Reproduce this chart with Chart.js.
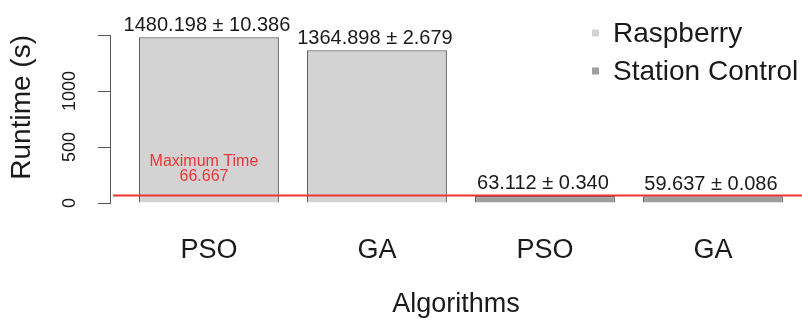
<!DOCTYPE html>
<html>
<head>
<meta charset="utf-8">
<script src="https://cdn.jsdelivr.net/npm/chart.js@4.4.1/dist/chart.umd.min.js"></script>
<style>
  html, body { margin: 0; padding: 0; background: #ffffff; }
  canvas { display: block; }
</style>
</head>
<body>
<canvas id="runtimeChart" width="802" height="324"></canvas>
<script>
// Runtime per algorithm and platform (mean ± standard deviation, seconds)
const algorithms = ['PSO', 'GA', 'PSO', 'GA'];
const platforms = ['Raspberry', 'Raspberry', 'Station Control', 'Station Control'];
const runtimeMean = [1480.198, 1364.898, 63.112, 59.637];
const runtimeSd = [10.386, 2.679, 0.340, 0.086];
const seriesNames = ['Raspberry', 'Station Control'];
const yTickValues = [0, 500, 1000, 1500];
const yTickLabels = ['0', '500', '1000', ''];
const maximumTime = 66.667;

const FONT = "'Liberation Sans', Arial, Helvetica, sans-serif";
const TEXT = '#1a1a1a';
const AXIS = '#555555';
const RED = '#ee3535';
const seriesFill = { 'Raspberry': '#d3d3d3', 'Station Control': '#9e9e9e' };

const datasets = seriesNames.map(name => ({
  label: name,
  data: runtimeMean
    .map((v, i) => (platforms[i] === name ? { x: i, y: v } : null))
    .filter(Boolean),
  backgroundColor: seriesFill[name],
  borderColor: '#606060',
  borderWidth: 1.3,
  grouped: false,
  categoryPercentage: 1,
  barPercentage: 0.833
}));

// Threshold line, its caption, value labels and legend
const annotations = {
  id: 'annotations',
  afterDatasetsDraw(chart) {
    const { ctx, chartArea, scales: { x, y } } = chart;
    ctx.save();

    // mean ± sd above each bar
    ctx.fillStyle = TEXT;
    ctx.font = `20px ${FONT}`;
    ctx.textAlign = 'center';
    ctx.textBaseline = 'middle';
    chart.data.datasets.forEach((ds, di) => {
      chart.getDatasetMeta(di).data.forEach((bar, j) => {
        const p = ds.data[j];
        const txt = `${p.y.toFixed(3)} ± ${runtimeSd[p.x].toFixed(3)}`;
        ctx.fillText(txt, bar.x - 2, bar.y - 12);
      });
    });

    // maximum time line
    const ly = y.getPixelForValue(maximumTime);
    ctx.strokeStyle = RED;
    ctx.lineWidth = 2;
    ctx.beginPath();
    ctx.moveTo(chartArea.left + 3, ly);
    ctx.lineTo(chartArea.right, ly);
    ctx.stroke();

    ctx.fillStyle = RED;
    ctx.font = `16px ${FONT}`;
    const cx = x.getPixelForValue(0) - 5;
    ctx.fillText('Maximum Time', cx, ly - 34);
    ctx.fillText(maximumTime.toFixed(3), cx, ly - 19);

    // legend
    ctx.font = `28px ${FONT}`;
    ctx.textAlign = 'left';
    chart.data.datasets.forEach((ds, i) => {
      const rowY = 33 + i * 38;
      ctx.fillStyle = ds.backgroundColor;
      ctx.fillRect(592, rowY - 3.5, 7, 7);
      ctx.fillStyle = TEXT;
      ctx.fillText(ds.label, 613, rowY + 1);
    });

    ctx.restore();
  }
};

new Chart(document.getElementById('runtimeChart'), {
  type: 'bar',
  data: { datasets },
  plugins: [annotations],
  options: {
    responsive: false,
    animation: false,
    layout: { padding: { top: 35, right: 0, bottom: 0, left: 0 } },
    plugins: {
      legend: { display: false },
      tooltip: { enabled: false }
    },
    scales: {
      x: {
        type: 'linear',
        offset: false,
        min: -0.589,
        max: 3.53,
        grid: { display: false, drawTicks: false, offset: false },
        border: { display: false },
        afterBuildTicks: s => { s.ticks = algorithms.map((_, i) => ({ value: i })); },
        afterFit: s => { s.height = 121; },
        ticks: {
          padding: 31,
          color: TEXT,
          font: { family: FONT, size: 27 },
          maxRotation: 0,
          autoSkip: false,
          callback: v => algorithms[v] ?? ''
        },
        title: {
          display: true,
          text: 'Algorithms',
          color: TEXT,
          font: { family: FONT, size: 27 },
          padding: { top: 0, bottom: 3 }
        }
      },
      y: {
        min: 0,
        max: 1500,
        afterBuildTicks: s => { s.ticks = yTickValues.map(v => ({ value: v })); },
        afterFit: s => { s.width = 110; },
        grid: {
          drawOnChartArea: false,
          drawTicks: true,
          tickLength: 12,
          color: AXIS,
          lineWidth: 1
        },
        border: { display: true, color: AXIS, width: 1 },
        ticks: {
          minRotation: 90,
          maxRotation: 90,
          crossAlign: 'center',
          padding: 8,
          color: TEXT,
          font: { family: FONT, size: 18 },
          callback: (v) => yTickLabels[yTickValues.indexOf(v)] ?? ''
        },
        title: {
          display: true,
          text: 'Runtime (s)',
          align: 'end',
          color: TEXT,
          font: { family: FONT, size: 28 },
          padding: { top: 5, bottom: 0 }
        }
      }
    }
  }
});
</script>
</body>
</html>
